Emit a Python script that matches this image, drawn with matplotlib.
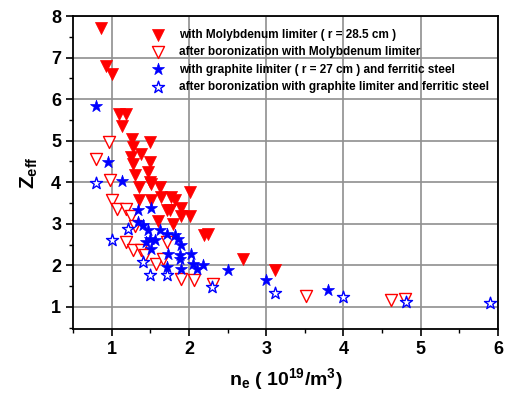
import matplotlib
matplotlib.use("Agg")
import matplotlib.pyplot as plt
from matplotlib.ticker import MultipleLocator

plt.rcParams['font.family'] = ['Liberation Sans', 'DejaVu Sans']
plt.rcParams['font.weight'] = 'bold'
plt.rcParams['mathtext.fontset'] = 'custom'
plt.rcParams['mathtext.rm'] = 'Liberation Sans:bold'
plt.rcParams['mathtext.bf'] = 'Liberation Sans:bold'
plt.rcParams['mathtext.it'] = 'Liberation Sans:bold'

# with Molybdenum limiter
mo_x = [0.86, 0.93, 1.0, 1.10, 1.18, 1.14, 1.26, 1.49, 1.28, 1.25, 1.38, 1.28, 1.49, 1.30,
        1.47, 1.49, 1.36, 1.51, 1.62, 1.64, 1.77, 1.82, 1.36, 1.51, 1.71, 1.75, 1.90, 2.01,
        1.90, 1.79, 1.60, 2.01, 2.20, 2.25, 2.70, 3.11]
mo_y = [7.70, 6.80, 6.60, 5.65, 5.65, 5.35, 5.05, 4.98, 4.85, 4.61, 4.69, 4.45, 4.49, 4.17,
        4.25, 4.01, 3.89, 3.97, 3.89, 3.65, 3.65, 3.57, 3.57, 3.57, 3.33, 3.33, 3.37, 3.20,
        3.20, 3.00, 3.08, 3.77, 2.72, 2.76, 2.16, 1.88]

# after boronization with Molybdenum limiter
mob_x = [0.80, 0.97, 0.98, 1.0, 1.07, 1.18, 1.25, 1.30, 1.19, 1.28, 1.38, 1.43, 1.58, 1.66,
         1.71, 1.90, 2.07, 2.31, 3.51, 4.61, 4.80]
mob_y = [4.55, 4.97, 4.06, 3.57, 3.35, 3.35, 3.18, 2.95, 2.56, 2.36, 2.36, 2.24, 2.04, 2.16,
         2.56, 1.68, 1.64, 1.56, 1.26, 1.16, 1.18]

# with graphite limiter and ferritic steel
gr_x = [0.80, 0.95, 1.14, 1.34, 1.51, 1.34, 1.40, 1.47, 1.62, 1.71, 1.82, 1.86, 1.49, 1.56,
        1.45, 1.51, 1.73, 1.90, 1.88, 2.03, 1.88, 2.05, 2.10, 2.18, 1.71, 1.90, 2.50, 3.00, 3.80]
gr_y = [5.83, 4.48, 4.03, 3.33, 3.37, 3.04, 2.96, 2.84, 2.84, 2.76, 2.72, 2.64, 2.64, 2.60,
        2.56, 2.40, 2.28, 2.48, 2.24, 2.28, 2.16, 2.04, 1.92, 2.00, 1.96, 1.92, 1.90, 1.64, 1.40]

# after boronization with graphite limiter and ferritic steel
grb_x = [0.80, 1.0, 1.21, 1.40, 1.49, 1.71, 2.30, 3.11, 4.00, 4.81, 5.90]
grb_y = [3.99, 2.60, 2.88, 2.08, 1.78, 1.78, 1.48, 1.33, 1.24, 1.12, 1.09]

labels = ['with Molybdenum limiter ( r = 28.5 cm )',
          'after boronization with Molybdenum limiter',
          'with graphite limiter ( r = 27 cm ) and ferritic steel',
          'after boronization with graphite limiter and ferritic steel']

fig = plt.figure(figsize=(5.14, 3.95), dpi=100)
ax = fig.add_axes([73/514, 66/395, 425/514, 313/395])

ms = 75
ax.scatter(mo_x, mo_y, s=ms, marker='v', color='#ff0000', edgecolors='#ff0000',
           linewidths=0.5, label=labels[0], zorder=3)
ax.scatter(mob_x, mob_y, s=ms, marker='v', facecolors='white', edgecolors='#ff0000',
           linewidths=1.0, label=labels[1], zorder=3)
ax.scatter(gr_x, gr_y, s=ms*1.1, marker='*', color='#0000ff', edgecolors='#0000ff',
           linewidths=0.5, label=labels[2], zorder=3)
ax.scatter(grb_x, grb_y, s=ms*1.1, marker='*', facecolors='white', edgecolors='#0000ff',
           linewidths=1.0, label=labels[3], zorder=3)

ax.set_xlim(0.5, 6)
ax.set_ylim(0.47, 8)
ax.xaxis.set_major_locator(MultipleLocator(1))
ax.xaxis.set_minor_locator(MultipleLocator(0.5))
ax.yaxis.set_major_locator(MultipleLocator(1))
ax.yaxis.set_minor_locator(MultipleLocator(0.5))
ax.grid(True, which='major', color='#8f8f8f', linewidth=1.2, zorder=0)
ax.set_axisbelow(True)
ax.tick_params(which='major', direction='out', length=5, width=1.2, labelsize=13)
ax.tick_params(which='minor', direction='out', length=3, width=1.0)
for lab in ax.get_xticklabels() + ax.get_yticklabels():
    lab.set_fontweight('bold')
for sp in ax.spines.values():
    sp.set_linewidth(1.3)

ax.set_xlabel(r'n$_\mathrm{e}$ ( 10$^\mathrm{19}$/m$^\mathrm{3}$)', fontsize=14,
              fontweight='bold', labelpad=6)
ax.set_ylabel(r'Z$_\mathrm{eff}$', fontsize=15, fontweight='bold', labelpad=8)

leg = ax.legend(loc='upper left', bbox_to_anchor=(0.165, 0.985), frameon=False,
                prop={'size': 8.5, 'weight': 'bold'}, handletextpad=1.1,
                labelspacing=0.45, borderaxespad=0.3, handlelength=1.2)

fig.savefig('out.png', dpi=100)
